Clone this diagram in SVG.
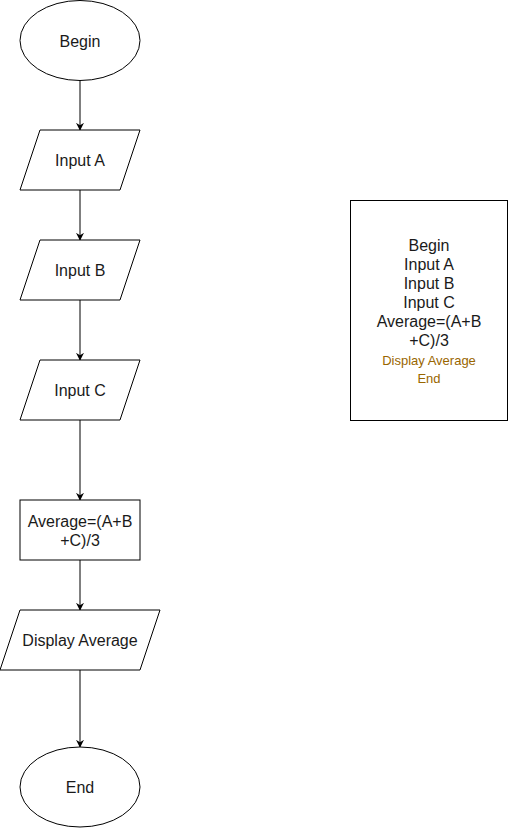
<svg xmlns="http://www.w3.org/2000/svg" width="509" height="828" viewBox="0 0 509 828">
<style>
.s{fill:#fff;stroke:#000;stroke-width:1}
.t{font-family:"Liberation Sans",Arial,sans-serif;font-size:16px;fill:#1a1a1a;text-anchor:middle}
.c{font-family:"Liberation Sans",Arial,sans-serif;font-size:13px;fill:#996600;text-anchor:middle}
.e{fill:none;stroke:#000;stroke-width:1}
</style>
<defs>
<marker id="a" viewBox="0 0 10 10" refX="9" refY="5" markerWidth="8" markerHeight="8" markerUnits="userSpaceOnUse" orient="auto">
<path d="M0,0 L10,5 L0,10 L3,5 Z" fill="#000"/>
</marker>
</defs>
<rect width="509" height="828" fill="#fff"/>
<g id="edges">
<line class="e" x1="80" y1="80.5" x2="80" y2="130" marker-end="url(#a)"/>
<line class="e" x1="80" y1="190" x2="80" y2="240" marker-end="url(#a)"/>
<line class="e" x1="80" y1="300" x2="80" y2="360" marker-end="url(#a)"/>
<line class="e" x1="80" y1="420" x2="80" y2="500" marker-end="url(#a)"/>
<line class="e" x1="80" y1="560" x2="80" y2="610" marker-end="url(#a)"/>
<line class="e" x1="80" y1="670" x2="80" y2="747" marker-end="url(#a)"/>
</g>
<g id="begin">
<ellipse class="s" cx="80" cy="40.5" rx="60" ry="40"/>
<text class="t" x="80" y="46.5">Begin</text>
</g>
<g id="inputA">
<polygon class="s" points="40,130 140,130 120,190 20,190"/>
<text class="t" x="80" y="165.5">Input A</text>
</g>
<g id="inputB">
<polygon class="s" points="40,240 140,240 120,300 20,300"/>
<text class="t" x="80" y="275.5">Input B</text>
</g>
<g id="inputC">
<polygon class="s" points="40,360 140,360 120,420 20,420"/>
<text class="t" x="80" y="395.5">Input C</text>
</g>
<g id="average">
<rect class="s" x="20" y="500" width="120" height="60"/>
<text class="t" x="80" y="526.5">Average=(A+B</text>
<text class="t" x="80" y="545.5">+C)/3</text>
</g>
<g id="display">
<polygon class="s" points="20,610 160,610 140,670 0,670"/>
<text class="t" x="80" y="645.5">Display Average</text>
</g>
<g id="end">
<ellipse class="s" cx="80" cy="787" rx="60" ry="40"/>
<text class="t" x="80" y="792.5">End</text>
</g>
<g id="summary">
<rect class="s" x="350.5" y="200.5" width="157" height="220"/>
<text class="t" x="429" y="250.5">Begin</text>
<text class="t" x="429" y="269.5">Input A</text>
<text class="t" x="429" y="288.5">Input B</text>
<text class="t" x="429" y="307.5">Input C</text>
<text class="t" x="429" y="326.5">Average=(A+B</text>
<text class="t" x="429" y="345.5">+C)/3</text>
<text class="c" x="429" y="364.5">Display Average</text>
<text class="c" x="429" y="383">End</text>
</g>
</svg>
